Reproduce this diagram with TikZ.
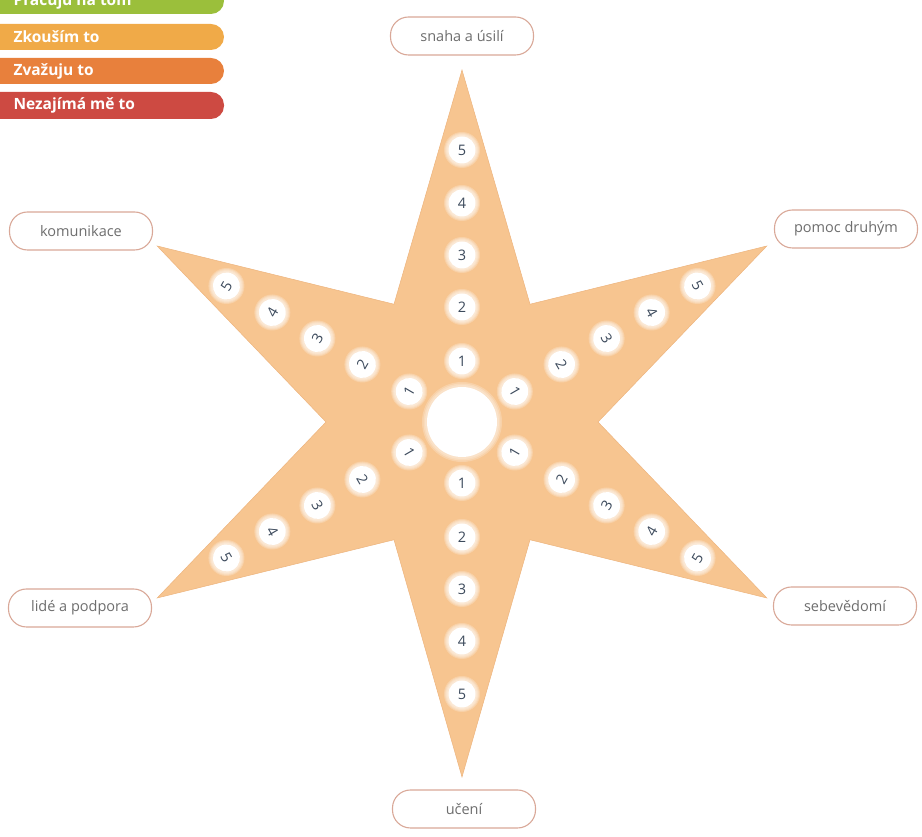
\documentclass[tikz,border=0pt]{standalone}
\usepackage{fontspec}
\setmainfont{Open Sans}
\definecolor{starc}{HTML}{F7C590}
\definecolor{stare}{HTML}{EDB47E}
\definecolor{numtxt}{HTML}{3C4A5C}
\definecolor{lbltxt}{HTML}{6E6E6E}
\definecolor{lblbrd}{HTML}{D9A898}
\definecolor{lgreen}{HTML}{9BBF3B}
\definecolor{lorange}{HTML}{F0AA48}
\definecolor{lorange2}{HTML}{E8803C}
\definecolor{lred}{HTML}{CD4A42}
\tikzset{
  numc/.style={circle, fill=white, minimum size=27, inner sep=0pt, text=numtxt, font=\fontsize{14.5}{14.5}\selectfont},
  glow/.style={fill=white, opacity=0.22},
  lbl/.style={draw=lblbrd, line width=1.1pt, fill=white, rounded corners=18pt, minimum width=143, minimum height=38, text=lbltxt, font=\fontsize{14.5}{15}\selectfont},
  legbar/.style={rounded corners=13pt},
  legtxt/.style={anchor=west, text=white, font=\fontsize{15.5}{16}\selectfont\bfseries}
}
\begin{document}
\begin{tikzpicture}[x=1pt,y=1pt]
\useasboundingbox (0,0) rectangle (922,837);
% legend
\begin{scope}
\clip (0,0) rectangle (922,837);
\fill[lgreen, legbar] (-20,823) rectangle (224,849);
\node[legtxt] (lg1) at (10,836) {Pracuju na tom};
\fill[lorange, legbar] (-20,787) rectangle (224,813);
\node[legtxt] (lg2) at (10,800) {Zkouším to};
\fill[lorange2, legbar] (-20,753) rectangle (224,779);
\node[legtxt] (lg3) at (10,766) {Zvažuju to};
\fill[lred, legbar] (-20,718) rectangle (224,745);
\node[legtxt] (lg4) at (10,731.5) {Nezajímá mě to};
\end{scope}
% star
\begin{scope}[shift={(462,415)}]
\filldraw[fill=starc, draw=stare, line width=0.5pt] (90:352) -- (60:136) -- (30:352) -- (0:136) -- (-30:352) -- (-60:136) -- (-90:355) -- (-120:136) -- (-150:352) -- (180:136) -- (150:352) -- (120:136) -- cycle;
\foreach \g in {40,38.5,37} {\fill[glow] (0,0) circle (\g);}
\node[circle, fill=white, minimum size=70, inner sep=0pt] (hub) at (0,0) {};
\foreach \a/\r/\nm in {90/0/t, 30/-60/ur, -30/60/lr, -90/0/b, -150/-60/ll, 150/60/ul} {
  \foreach \k/\d in {1/61,2/115,3/167,4/219,5/272} {
    \foreach \g in {18,17,16,15} {\fill[glow] (\a:\d) circle (\g);}
    \node[numc, rotate=\r] (\nm\k) at (\a:\d) {\k};
  }
}
\end{scope}
% labels
\node[lbl] (snaha) at (462,801) {snaha a úsilí};
\node[lbl] (pomoc) at (846,608) {pomoc druhým};
\node[lbl] (sebev) at (845,231) {sebevědomí};
\node[lbl] (uceni) at (464,28) {učení};
\node[lbl] (lide) at (80,229) {lidé a podpora};
\node[lbl] (komun) at (81,606) {komunikace};
\end{tikzpicture}
\end{document}
